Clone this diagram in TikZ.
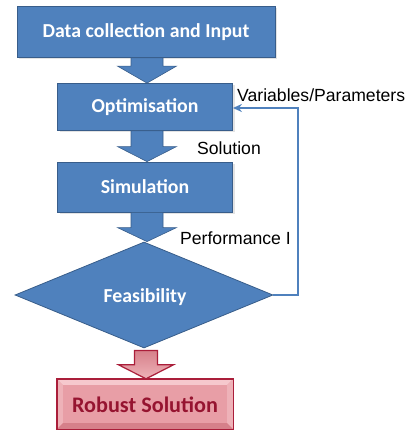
\documentclass[tikz,border=0pt]{standalone}
\usepackage{fontspec}
\setmainfont{Liberation Sans}
\newfontfamily\boxfont{Carlito}
\usetikzlibrary{shapes.geometric,calc,shadows,arrows.meta}

\definecolor{boxblue}{RGB}{79,129,189}
\definecolor{boxedge}{RGB}{56,93,138}
\definecolor{pinkface}{RGB}{232,158,166}
\definecolor{pinklight}{RGB}{246,200,205}
\definecolor{pinkmid}{RGB}{238,178,184}
\definecolor{pinkdark}{RGB}{214,128,138}
\definecolor{pinkedge}{RGB}{170,30,58}
\definecolor{pinktext}{RGB}{150,20,48}

\tikzset{
  softshadow/.style={drop shadow={opacity=0.22, shadow xshift=2pt, shadow yshift=-2pt}},
  boxtext/.style={font=\boxfont\bfseries\fontsize{19.8}{22}\selectfont},
  stepbox/.style={rectangle, fill=boxblue, draw=boxedge, line width=0.8pt,
    text=white, boxtext,
    minimum width=175pt, minimum height=48pt, inner sep=0pt, softshadow},
  decision/.style={diamond, fill=boxblue, draw=boxedge, line width=0.8pt,
    minimum width=258pt, minimum height=106pt, inner sep=0pt},
  resultbox/.style={rectangle, fill=pinkface, draw=none,
    minimum width=176pt, minimum height=50pt, inner sep=0pt},
  flowarrow/.style={fill=boxblue, draw=boxedge, line width=0.6pt},
  resultarrow/.style={top color=pinkdark, bottom color=pinkmid, draw=pinkedge, line width=1.2pt},
  loopline/.style={draw=boxblue, line width=1.6pt, -{Stealth[length=9pt,width=8pt]}},
  tag/.style={font=\fontsize{17.6}{20}\selectfont, inner sep=0pt}
}

% block arrow: style, start anchor, tip anchor, shaft half width, head half width, head length
\newcommand\blkarrow[6]{%
  \path[#1] let \p1=(#2), \p2=(#3) in
    (\x2-#4,\y1) -- (\x2+#4,\y1) -- (\x2+#4,\y2+#6) -- (\x2+#5,\y2+#6)
    -- (\x2,\y2) -- (\x2-#5,\y2+#6) -- (\x2-#4,\y2+#6) -- cycle;}

\begin{document}
\begin{tikzpicture}[x=1pt,y=-1pt]
  \useasboundingbox (0,0) rectangle (407,430);

  % process steps
  \node[stepbox, minimum width=258pt, minimum height=51pt] (din) at (146,32) {Data collection and Input};
  \node[stepbox, minimum height=47pt] (opt) at (145,107) {Optimisation};
  \node[stepbox, minimum height=50pt] (sim) at (145,187) {Simulation};
  \node[decision] (feas) at (144,295) {};
  \node[text=white, boxtext] (feastext) at (145,297) {Feasibility};

  % result box with bevelled rim
  \node[resultbox] (res) at (145,404) {};
  \coordinate (inw) at ([xshift=6pt,yshift=-6pt]res.north west);
  \coordinate (ine) at ([xshift=-6pt,yshift=-6pt]res.north east);
  \coordinate (isw) at ([xshift=6pt,yshift=6pt]res.south west);
  \coordinate (ise) at ([xshift=-6pt,yshift=6pt]res.south east);
  \fill[pinklight] (res.north west) -- (res.north east) -- (ine) -- (inw) -- cycle;
  \fill[pinkmid] (res.north west) -- (inw) -- (isw) -- (res.south west) -- cycle;
  \fill[pinkmid] (res.north east) -- (ine) -- (ise) -- (res.south east) -- cycle;
  \fill[pinkdark] (res.south west) -- (isw) -- (ise) -- (res.south east) -- cycle;
  \draw[pinkedge, line width=1.4pt] (res.north west) rectangle (res.south east);
  \node[text=pinktext, font=\boxfont\bfseries\fontsize{22.2}{25}\selectfont] (restext) at (145,405) {Robust Solution};

  % block arrows between the steps
  \blkarrow{flowarrow}{din.south}{[xshift=2pt]opt.north}{16}{29.5}{17}
  \blkarrow{flowarrow}{opt.south}{[xshift=2pt]sim.north}{16}{29.5}{15}
  \blkarrow{flowarrow}{sim.south}{[xshift=3pt]feas.north}{16}{29.5}{14}
  \blkarrow{resultarrow}{[yshift=-2pt]feas.south}{[xshift=1pt]res.north}{11.5}{27.5}{14}

  % feedback loop
  \coordinate (turn) at (298,295);
  \draw[loopline] (feas.east) -- (turn) |- ([yshift=-1pt]opt.east);

  % labels
  \node[tag, anchor=west] (lvar) at (237,95) {Variables/Parameters};
  \node[tag, anchor=west] (lsol) at (197,148) {Solution};
  \node[tag, anchor=west] (lperf) at (180,238) {Performance I};
\end{tikzpicture}
\end{document}
